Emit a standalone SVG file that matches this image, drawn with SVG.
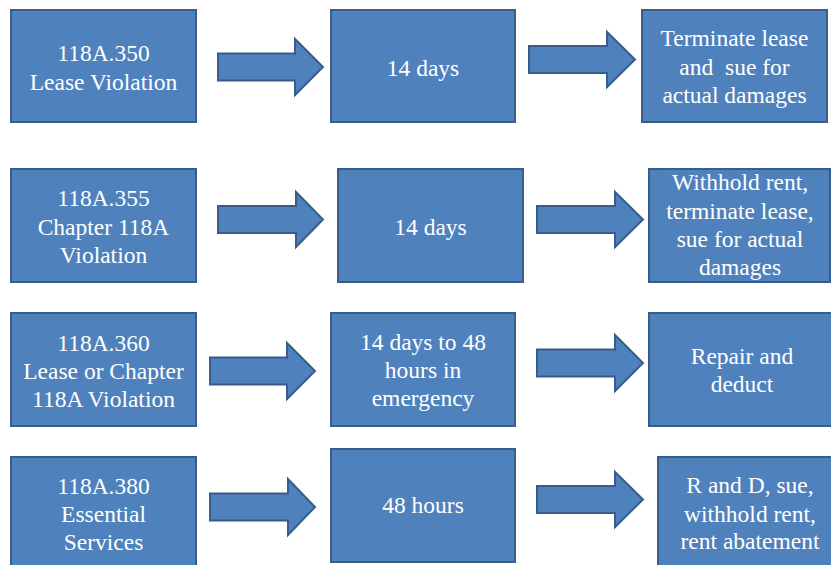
<svg xmlns="http://www.w3.org/2000/svg" width="831" height="565" viewBox="0 0 831 565">
<style>
.box{fill:#4F81BD;stroke:#385D8A;stroke-width:2}
.arr{fill:#4F81BD;stroke:#385D8A;stroke-width:2;stroke-linejoin:miter}
.t{font-family:"Times New Roman","Liberation Serif",Times,serif;font-size:23.5px;fill:#FFFFFF;text-anchor:middle}
</style>
<rect width="831" height="565" fill="#FFFFFF"/>
<g id="connectors">
<polygon class="arr" points="218,53.5 295,53.5 295,39 323,67 295,95 295,80.5 218,80.5"/>
<polygon class="arr" points="529,46 607,46 607,32 635,59.5 607,87 607,73 529,73"/>
<polygon class="arr" points="218,206 296,206 296,192 323,219.5 296,247 296,233 218,233"/>
<polygon class="arr" points="537,206 615,206 615,192 643,219.5 615,247 615,233 537,233"/>
<polygon class="arr" points="210,357.5 287,357.5 287,343 315,371 287,399 287,384.5 210,384.5"/>
<polygon class="arr" points="537,349.5 615,349.5 615,335 643,363 615,391 615,376.5 537,376.5"/>
<polygon class="arr" points="210,493.5 288,493.5 288,479 315,507 288,535 288,520.5 210,520.5"/>
<polygon class="arr" points="537,486 615,486 615,472 643,499.5 615,527 615,513 537,513"/>
</g>
<g class="t">
<g id="n1"><rect class="box" x="11" y="10" width="185" height="112"/>
<text x="103.5" y="61">118A.350</text><text x="103.5" y="89.5">Lease Violation</text></g>
<g id="n2"><rect class="box" x="331" y="10" width="184" height="112"/>
<text x="423" y="76">14 days</text></g>
<g id="n3"><rect class="box" x="642" y="10" width="185" height="112"/>
<text x="734.5" y="46">Terminate lease</text><text x="734.5" y="75" xml:space="preserve">and  sue for</text><text x="734.5" y="103">actual damages</text></g>
<g id="n4"><rect class="box" x="11" y="169" width="185" height="113"/>
<text x="103.5" y="206">118A.355</text><text x="103.5" y="235">Chapter 118A</text><text x="103.5" y="263">Violation</text></g>
<g id="n5"><rect class="box" x="338" y="169" width="185" height="113"/>
<text x="430.5" y="235">14 days</text></g>
<g id="n6"><rect class="box" x="649" y="169" width="181" height="113"/>
<text x="740" y="190">Withhold rent,</text><text x="740" y="218.5">terminate lease,</text><text x="740" y="247">sue for actual</text><text x="740" y="275">damages</text></g>
<g id="n7"><rect class="box" x="11" y="313" width="185" height="113"/>
<text x="103.5" y="351">118A.360</text><text x="103.5" y="379">Lease or Chapter</text><text x="103.5" y="407">118A Violation</text></g>
<g id="n8"><rect class="box" x="331" y="313" width="184" height="113"/>
<text x="423" y="350">14 days to 48</text><text x="423" y="378">hours in</text><text x="423" y="406">emergency</text></g>
<g id="n9"><rect class="box" x="649" y="313" width="186" height="113"/>
<text x="742" y="364">Repair and</text><text x="742" y="392">deduct</text></g>
<g id="n10"><rect class="box" x="11" y="457" width="185" height="113"/>
<text x="103.5" y="494">118A.380</text><text x="103.5" y="522">Essential</text><text x="103.5" y="550">Services</text></g>
<g id="n11"><rect class="box" x="331" y="449" width="184" height="113"/>
<text x="423" y="513">48 hours</text></g>
<g id="n12"><rect class="box" x="658" y="457" width="184" height="113"/>
<text x="750" y="493">R and D, sue,</text><text x="750" y="522">withhold rent,</text><text x="750" y="549">rent abatement</text></g>
</g>
</svg>
